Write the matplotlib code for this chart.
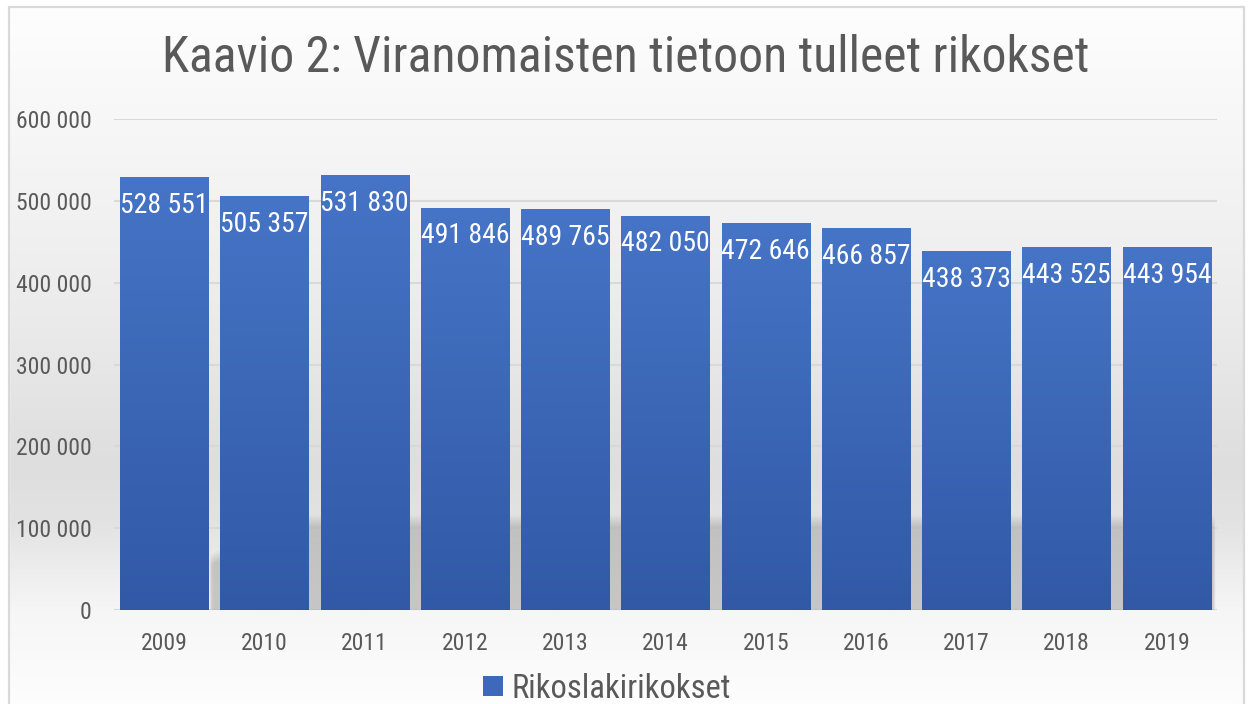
import matplotlib
matplotlib.use("Agg")
import matplotlib.pyplot as plt
import numpy as np
from matplotlib.colors import LinearSegmentedColormap, to_rgb
from matplotlib.patches import Rectangle

years = ["2009", "2010", "2011", "2012", "2013", "2014", "2015", "2016", "2017", "2018", "2019"]
crimes = [528551, 505357, 531830, 491846, 489765, 482050, 472646, 466857, 438373, 443525, 443954]
series_name = "Rikoslakirikokset"
title = "Kaavio 2: Viranomaisten tietoon tulleet rikokset"
y_ticks = [0, 100000, 200000, 300000, 400000, 500000, 600000]

FONT = "Roboto Condensed"
TEXT_GRAY = "#595959"
GRID = "#d9d9d9"
BAR_TOP = "#4674c6"
BAR_BOTTOM = "#3159a6"


def fmt(v):
    return f"{v:,}".replace(",", " ")


fig = plt.figure(figsize=(12.49, 7.04), dpi=100)
fig.patch.set_facecolor("white")

# chart area background: light at top, grey in the middle, light again at the bottom
bg_ax = fig.add_axes([0, 0, 1, 1], zorder=0)
bg_ax.set_axis_off()
stops = [(0.0, "#fefefe"), (0.17, "#f7f7f7"), (0.45, "#ebebeb"), (0.66, "#dedede"),
         (0.74, "#e2e2e2"), (0.87, "#f6f6f6"), (1.0, "#fdfdfd")]
bg_cmap = LinearSegmentedColormap.from_list("bg", stops)
bg_ax.imshow(np.linspace(0, 1, 400).reshape(-1, 1), cmap=bg_cmap, aspect="auto",
             extent=[0, 1, 0, 1], origin="upper", vmin=0, vmax=1)
bg_ax.set_xlim(0, 1)
bg_ax.set_ylim(0, 1)
# white outside the chart border
bg_ax.add_patch(Rectangle((0, 0), 9 / 1249, 1, color="white", zorder=2))
bg_ax.add_patch(Rectangle((1244 / 1249, 0), 1, 1, color="white", zorder=2))
bg_ax.add_patch(Rectangle((0, 1 - 7 / 704), 1, 1, color="white", zorder=2))
bg_ax.plot([9 / 1249, 9 / 1249, 1244 / 1249, 1244 / 1249], [0, 1 - 7 / 704, 1 - 7 / 704, 0],
           color=GRID, lw=1.6, zorder=3, solid_joinstyle="miter")

ax = fig.add_axes([114 / 1249, 1 - 610 / 704, (1217 - 114) / 1249, (610 - 119) / 704], zorder=1)
ax.patch.set_alpha(0)

x = np.arange(len(years))
n = len(years)

# soft shadow band behind the lower part of the bars (top edge drops towards the left)
sx0, sx1, sy1 = 0.44, n - 0.5, 125000
sh_x = np.linspace(sx0, sx1, 400)
sh_y = np.linspace(sy1, 0, 120)
top = np.minimum(116000, 68000 + (sh_x - sx0) * 55000)
soft = 14000
alpha = np.clip((top[None, :] - sh_y[:, None]) / soft, 0, 1)
alpha *= np.clip((sh_x - sx0) / 0.03, 0, 1)[None, :] * np.clip((sx1 - sh_x) / 0.03, 0, 1)[None, :]
shadow = np.zeros((len(sh_y), len(sh_x), 4))
shadow[..., :3] = to_rgb("#b4b4b4")
shadow[..., 3] = 0.72 * alpha
ax.imshow(shadow, extent=[sx0, sx1, 0, sy1], aspect="auto", zorder=1, interpolation="bilinear")

ax.grid(axis="y", color=GRID, lw=1.5, zorder=0.5)
ax.set_axisbelow(True)
for s in ax.spines.values():
    s.set_visible(False)

bars = ax.bar(x, crimes, width=0.88, color=BAR_TOP, zorder=2, linewidth=0)
bar_cmap = LinearSegmentedColormap.from_list("bar", [BAR_BOTTOM, BAR_TOP])
grad = np.linspace(1, 0, 256).reshape(-1, 1)
for b in bars:
    im = ax.imshow(grad, cmap=bar_cmap, aspect="auto", zorder=2.5,
                   extent=[b.get_x(), b.get_x() + b.get_width(), 0, b.get_height()],
                   vmin=0, vmax=1)
    im.set_clip_path(b)

for xi, v in zip(x, crimes):
    ax.annotate(fmt(v), xy=(xi, v), xytext=(0, -20.5), textcoords="offset points",
                ha="center", va="center", color="white", fontsize=20, family=FONT, zorder=4)

ax.set_xlim(-0.5, n - 0.5)
ax.set_ylim(0, 600000)
ax.set_xticks(x)
ax.set_xticklabels(years)
ax.set_yticks(y_ticks)
ax.set_yticklabels([fmt(t) for t in y_ticks])
ax.tick_params(axis="both", length=0, labelsize=17, labelcolor=TEXT_GRAY)
ax.tick_params(axis="y", pad=16)
ax.tick_params(axis="x", pad=15.5)
for lab in ax.get_xticklabels() + ax.get_yticklabels():
    lab.set_family(FONT)

fig.text(626 / 1249, 1 - 58 / 704, title, ha="center", va="center", fontsize=35.7,
         color=TEXT_GRAY, family=FONT)

handle = Rectangle((0, 0), 1, 1, facecolor="#3d68bb", edgecolor="none")
leg = fig.legend([handle], [series_name], loc="center", bbox_to_anchor=(607 / 1249, 1 - 688.5 / 704),
                 frameon=False, handlelength=0.6, handleheight=0.6, handletextpad=0.27,
                 prop={"family": FONT, "size": 23.5}, borderpad=0)
for t in leg.get_texts():
    t.set_color(TEXT_GRAY)

fig.savefig("out.png", dpi=100)
